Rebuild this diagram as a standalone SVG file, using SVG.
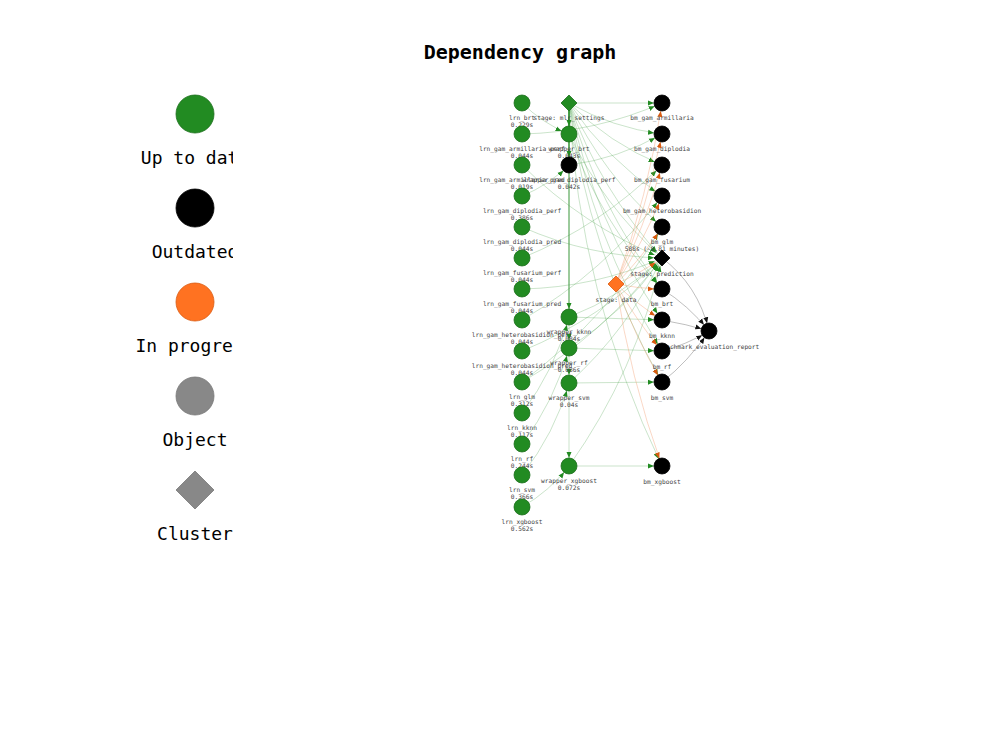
<svg xmlns="http://www.w3.org/2000/svg" width="1000" height="744" viewBox="0 0 1000 744">
<style>
.title{font-family:"DejaVu Sans Mono","Liberation Mono",monospace;font-weight:bold;font-size:20px;fill:#000}
.leg{font-family:"DejaVu Sans Mono","Liberation Mono",monospace;font-size:18px;fill:#000}
.lbl{font-family:"DejaVu Sans Mono","Liberation Mono",monospace;font-size:6.2px;fill:#444}
.g{fill:#228B22;stroke:#1C6E1C;stroke-width:0.8}
.k{fill:#000;stroke:#000;stroke-width:0.8}
.o{fill:#FF7221;stroke:#D95A10;stroke-width:0.8}
.gr{fill:#888;stroke:#777;stroke-width:0.8}
.eg{fill:none;stroke:#228B22;stroke-opacity:0.4;stroke-width:0.6}
.ed{fill:none;stroke:#228B22;stroke-width:0.9}
.eo{fill:none;stroke:#F08850;stroke-opacity:0.55;stroke-width:0.6}
.ek{fill:none;stroke:#666;stroke-opacity:0.7;stroke-width:0.6}
</style>
<defs>
<clipPath id="legclip"><rect x="0" y="0" width="233" height="744"/></clipPath>
<marker id="ag" viewBox="0 -4 16 8" refX="14" refY="0" markerWidth="16" markerHeight="8" markerUnits="userSpaceOnUse" orient="auto"><path d="M0,-2.5 L6,0 L0,2.5 z" fill="#228B22"/></marker>
<marker id="ao" viewBox="0 -4 16 8" refX="14" refY="0" markerWidth="16" markerHeight="8" markerUnits="userSpaceOnUse" orient="auto"><path d="M0,-2.5 L6,0 L0,2.5 z" fill="#D95A10"/></marker>
<marker id="ak" viewBox="0 -4 16 8" refX="14" refY="0" markerWidth="16" markerHeight="8" markerUnits="userSpaceOnUse" orient="auto"><path d="M0,-2.5 L6,0 L0,2.5 z" fill="#111"/></marker>
</defs>
<rect width="1000" height="744" fill="#fff"/>
<text class="title" x="520" y="59" text-anchor="middle">Dependency graph</text>

<g id="legend" clip-path="url(#legclip)">
<g id="leg-uptodate"><circle class="g" cx="195" cy="114" r="19"/><text class="leg" x="195" y="164" text-anchor="middle">Up to date</text></g>
<g id="leg-outdated"><circle class="k" cx="195" cy="208" r="19"/><text class="leg" x="195" y="258" text-anchor="middle">Outdated</text></g>
<g id="leg-inprogress"><circle class="o" cx="195" cy="302" r="19"/><text class="leg" x="195" y="352" text-anchor="middle">In progress</text></g>
<g id="leg-object"><circle class="gr" cx="195" cy="396" r="19"/><text class="leg" x="195" y="446" text-anchor="middle">Object</text></g>
<g id="leg-cluster"><polygon class="gr" points="195,471 214,490 195,509 176,490"/><text class="leg" x="195" y="540" text-anchor="middle">Cluster</text></g>
</g>

<g id="connectors">
<!-- light green -->
<path class="eg" marker-end="url(#ag)" d="M522,103 Q542.4,123.2 569,134"/>
<path class="eg" marker-end="url(#ag)" d="M522,134 Q595.1,132.5 662,103"/>
<path class="eg" marker-end="url(#ag)" d="M522,165 Q582.7,225.5 662,258"/>
<path class="eg" marker-end="url(#ag)" d="M522,196 Q548.6,185.2 569,165"/>
<path class="eg" marker-end="url(#ag)" d="M569,165 Q618.6,158.8 662,134"/>
<path class="eg" marker-end="url(#ag)" d="M522,227 Q588.9,256.5 662,258"/>
<path class="eg" marker-end="url(#ag)" d="M522,258 Q601.3,225.5 662,165"/>
<path class="eg" marker-end="url(#ag)" d="M522,289 Q595.1,287.5 662,258"/>
<path class="eg" marker-end="url(#ag)" d="M522,320 Q604.4,272 662,196"/>
<path class="eg" marker-end="url(#ag)" d="M522,351 Q601.3,318.5 662,258"/>
<path class="eg" marker-end="url(#ag)" d="M522,382 Q607.5,318.5 662,227"/>
<path class="eg" marker-end="url(#ag)" d="M522,382 Q604.4,334 662,258"/>
<path class="eg" marker-end="url(#ag)" d="M522,413 Q555.1,369.7 569,317"/>
<path class="eg" marker-end="url(#ag)" d="M522,444 Q555.1,400.7 569,348"/>
<path class="eg" marker-end="url(#ag)" d="M522,475 Q554.7,433.7 569,383"/>
<path class="eg" marker-end="url(#ag)" d="M522,507 Q549.6,491.2 569,466"/>
<path class="eg" marker-end="url(#ag)" d="M569,134 Q600,220.8 662,289"/>
<path class="eg" marker-end="url(#ag)" d="M569,134 Q603.1,205.3 662,258"/>
<path class="eg" marker-end="url(#ag)" d="M569,317 L662,320"/>
<path class="eg" marker-end="url(#ag)" d="M569,317 Q621.4,296.8 662,258"/>
<path class="eg" marker-end="url(#ag)" d="M569,348 L662,351"/>
<path class="eg" marker-end="url(#ag)" d="M569,348 Q624.5,312.3 662,258"/>
<path class="eg" marker-end="url(#ag)" d="M569,383 L662,382"/>
<path class="eg" marker-end="url(#ag)" d="M569,383 Q628,329.8 662,258"/>
<path class="eg" marker-end="url(#ag)" d="M569,466 L662,466"/>
<path class="eg" marker-end="url(#ag)" d="M569,466 Q636.3,371.3 662,258"/>
<path class="eg" marker-end="url(#ag)" d="M569,103 L662,103"/>
<path class="eg" marker-end="url(#ag)" d="M569,103 Q612.4,127.8 662,134"/>
<path class="eg" marker-end="url(#ag)" d="M569,103 Q609.3,143.3 662,165"/>
<path class="eg" marker-end="url(#ag)" d="M569,103 Q606.2,158.8 662,196"/>
<path class="eg" marker-end="url(#ag)" d="M569,103 Q603.1,174.3 662,227"/>
<path class="eg" marker-end="url(#ag)" d="M569,103 Q600,189.8 662,258"/>
<path class="eg" marker-end="url(#ag)" d="M569,103 Q596.9,205.3 662,289"/>
<path class="eg" marker-end="url(#ag)" d="M569,103 Q593.8,220.8 662,320"/>
<path class="eg" marker-end="url(#ag)" d="M569,103 Q590.7,236.3 662,351"/>
<path class="eg" marker-end="url(#ag)" d="M569,103 Q587.6,251.8 662,382"/>
<path class="eg" marker-end="url(#ag)" d="M569,103 Q579.2,293.8 662,466"/>
<!-- dark green verticals -->
<path class="ed" marker-end="url(#ag)" d="M569,103 L569,134"/>
<path class="ed" marker-end="url(#ag)" d="M569,103 L569,165"/>
<path class="ed" marker-end="url(#ag)" d="M569,103 L569,317"/>
<path class="eg" marker-end="url(#ag)" d="M569,317 L569,348"/>
<path class="eg" marker-end="url(#ag)" d="M569,348 L569,383"/>
<path class="eg" marker-end="url(#ag)" d="M569,383 L569,466"/>
<!-- orange -->
<path class="eo" marker-end="url(#ao)" d="M616,284 Q648.1,195.8 662,103"/>
<path class="eo" marker-end="url(#ao)" d="M616,284 Q646.5,211.3 662,134"/>
<path class="eo" marker-end="url(#ao)" d="M616,284 Q644.95,226.8 662,165"/>
<path class="eo" marker-end="url(#ao)" d="M616,284 Q643.4,242.3 662,196"/>
<path class="eo" marker-end="url(#ao)" d="M616,284 Q641.9,257.8 662,227"/>
<path class="eo" marker-end="url(#ao)" d="M616,284 Q640.3,273.3 662,258"/>
<path class="eo" marker-end="url(#ao)" d="M616,284 Q638.75,288.8 662,289"/>
<path class="eo" marker-end="url(#ao)" d="M616,284 Q637.2,304.3 662,320"/>
<path class="eo" marker-end="url(#ao)" d="M616,284 Q635.65,319.8 662,351"/>
<path class="eo" marker-end="url(#ao)" d="M616,284 Q634.1,335.3 662,382"/>
<path class="eo" marker-end="url(#ao)" d="M616,284 Q629.9,377.3 662,466"/>
<!-- gray -->
<path class="ek" marker-end="url(#ak)" d="M662,258 Q698,285 709,331"/>
<path class="ek" marker-end="url(#ak)" d="M662,289 Q688,305 709,331"/>
<path class="ek" marker-end="url(#ak)" d="M662,320 Q686,324 709,331"/>
<path class="ek" marker-end="url(#ak)" d="M662,351 Q686,345 709,331"/>
<path class="ek" marker-end="url(#ak)" d="M662,382 Q688,362 709,331"/>
</g>

<g id="n-lrn_brt"><circle class="g" cx="522" cy="103" r="8"/><text class="lbl" x="522" y="120" text-anchor="middle">lrn_brt</text><text class="lbl" x="522" y="127" text-anchor="middle">0.229s</text></g>
<g id="n-lrn_gam_armillaria_perf"><circle class="g" cx="522" cy="134" r="8"/><text class="lbl" x="522" y="151" text-anchor="middle">lrn_gam_armillaria_perf</text><text class="lbl" x="522" y="158" text-anchor="middle">0.044s</text></g>
<g id="n-lrn_gam_armillaria_pred"><circle class="g" cx="522" cy="165" r="8"/><text class="lbl" x="522" y="182" text-anchor="middle">lrn_gam_armillaria_pred</text><text class="lbl" x="522" y="189" text-anchor="middle">0.019s</text></g>
<g id="n-lrn_gam_diplodia_perf"><circle class="g" cx="522" cy="196" r="8"/><text class="lbl" x="522" y="213" text-anchor="middle">lrn_gam_diplodia_perf</text><text class="lbl" x="522" y="220" text-anchor="middle">0.386s</text></g>
<g id="n-lrn_gam_diplodia_pred"><circle class="g" cx="522" cy="227" r="8"/><text class="lbl" x="522" y="244" text-anchor="middle">lrn_gam_diplodia_pred</text><text class="lbl" x="522" y="251" text-anchor="middle">0.044s</text></g>
<g id="n-lrn_gam_fusarium_perf"><circle class="g" cx="522" cy="258" r="8"/><text class="lbl" x="522" y="275" text-anchor="middle">lrn_gam_fusarium_perf</text><text class="lbl" x="522" y="282" text-anchor="middle">0.044s</text></g>
<g id="n-lrn_gam_fusarium_pred"><circle class="g" cx="522" cy="289" r="8"/><text class="lbl" x="522" y="306" text-anchor="middle">lrn_gam_fusarium_pred</text><text class="lbl" x="522" y="313" text-anchor="middle">0.044s</text></g>
<g id="n-lrn_gam_heterobasidion_perf"><circle class="g" cx="522" cy="320" r="8"/><text class="lbl" x="522" y="337" text-anchor="middle">lrn_gam_heterobasidion_perf</text><text class="lbl" x="522" y="344" text-anchor="middle">0.044s</text></g>
<g id="n-lrn_gam_heterobasidion_pred"><circle class="g" cx="522" cy="351" r="8"/><text class="lbl" x="522" y="368" text-anchor="middle">lrn_gam_heterobasidion_pred</text><text class="lbl" x="522" y="375" text-anchor="middle">0.044s</text></g>
<g id="n-lrn_glm"><circle class="g" cx="522" cy="382" r="8"/><text class="lbl" x="522" y="399" text-anchor="middle">lrn_glm</text><text class="lbl" x="522" y="406" text-anchor="middle">0.312s</text></g>
<g id="n-lrn_kknn"><circle class="g" cx="522" cy="413" r="8"/><text class="lbl" x="522" y="430" text-anchor="middle">lrn_kknn</text><text class="lbl" x="522" y="437" text-anchor="middle">0.117s</text></g>
<g id="n-lrn_rf"><circle class="g" cx="522" cy="444" r="8"/><text class="lbl" x="522" y="461" text-anchor="middle">lrn_rf</text><text class="lbl" x="522" y="468" text-anchor="middle">0.244s</text></g>
<g id="n-lrn_svm"><circle class="g" cx="522" cy="475" r="8"/><text class="lbl" x="522" y="492" text-anchor="middle">lrn_svm</text><text class="lbl" x="522" y="499" text-anchor="middle">0.366s</text></g>
<g id="n-lrn_xgboost"><circle class="g" cx="522" cy="507" r="8"/><text class="lbl" x="522" y="524" text-anchor="middle">lrn_xgboost</text><text class="lbl" x="522" y="531" text-anchor="middle">0.562s</text></g>

<g id="n-stage_mlr_settings"><polygon class="g" points="569,95 577,103 569,111 561,103"/><text class="lbl" x="569" y="120" text-anchor="middle">stage: mlr_settings</text></g>
<g id="n-wrapper_brt"><circle class="g" cx="569" cy="134" r="8"/><text class="lbl" x="569" y="151" text-anchor="middle">wrapper_brt</text><text class="lbl" x="569" y="158" text-anchor="middle">0.043s</text></g>
<g id="n-wrapper_gam_diplodia_perf"><circle class="k" cx="569" cy="165" r="8"/><text class="lbl" x="569" y="182" text-anchor="middle">wrapper_gam_diplodia_perf</text><text class="lbl" x="569" y="189" text-anchor="middle">0.042s</text></g>
<g id="n-wrapper_kknn"><circle class="g" cx="569" cy="317" r="8"/><text class="lbl" x="569" y="334" text-anchor="middle">wrapper_kknn</text><text class="lbl" x="569" y="341" text-anchor="middle">0.084s</text></g>
<g id="n-wrapper_rf"><circle class="g" cx="569" cy="348" r="8"/><text class="lbl" x="569" y="365" text-anchor="middle">wrapper_rf</text><text class="lbl" x="569" y="372" text-anchor="middle">0.086s</text></g>
<g id="n-wrapper_svm"><circle class="g" cx="569" cy="383" r="8"/><text class="lbl" x="569" y="400" text-anchor="middle">wrapper_svm</text><text class="lbl" x="569" y="407" text-anchor="middle">0.04s</text></g>
<g id="n-wrapper_xgboost"><circle class="g" cx="569" cy="466" r="8"/><text class="lbl" x="569" y="483" text-anchor="middle">wrapper_xgboost</text><text class="lbl" x="569" y="490" text-anchor="middle">0.072s</text></g>

<g id="n-stage_data"><polygon class="o" points="616,276 624,284 616,292 608,284"/><text class="lbl" x="616" y="302" text-anchor="middle">stage: data</text></g>

<g id="n-bm_gam_armillaria"><circle class="k" cx="662" cy="103" r="8"/><text class="lbl" x="662" y="120" text-anchor="middle">bm_gam_armillaria</text></g>
<g id="n-bm_gam_diplodia"><circle class="k" cx="662" cy="134" r="8"/><text class="lbl" x="662" y="151" text-anchor="middle">bm_gam_diplodia</text></g>
<g id="n-bm_gam_fusarium"><circle class="k" cx="662" cy="165" r="8"/><text class="lbl" x="662" y="182" text-anchor="middle">bm_gam_fusarium</text></g>
<g id="n-bm_gam_heterobasidion"><circle class="k" cx="662" cy="196" r="8"/><text class="lbl" x="662" y="213" text-anchor="middle">bm_gam_heterobasidion</text></g>
<g id="n-bm_glm"><circle class="k" cx="662" cy="227" r="8"/><text class="lbl" x="662" y="244" text-anchor="middle">bm_glm</text><text class="lbl" x="662" y="251" text-anchor="middle">588s (~9.81 minutes)</text></g>
<g id="n-stage_prediction"><polygon class="k" points="662,250 670,258 662,266 654,258"/><text class="lbl" x="662" y="276" text-anchor="middle">stage: prediction</text></g>
<g id="n-bm_brt"><circle class="k" cx="662" cy="289" r="8"/><text class="lbl" x="662" y="306" text-anchor="middle">bm_brt</text></g>
<g id="n-bm_kknn"><circle class="k" cx="662" cy="320" r="8"/><text class="lbl" x="662" y="338" text-anchor="middle">bm_kknn</text></g>
<g id="n-benchmark_evaluation_report"><circle class="k" cx="709" cy="331" r="8"/><text class="lbl" x="709" y="349" text-anchor="middle">benchmark_evaluation_report</text></g>
<g id="n-bm_rf"><circle class="k" cx="662" cy="351" r="8"/><text class="lbl" x="662" y="369" text-anchor="middle">bm_rf</text></g>
<g id="n-bm_svm"><circle class="k" cx="662" cy="382" r="8"/><text class="lbl" x="662" y="400" text-anchor="middle">bm_svm</text></g>
<g id="n-bm_xgboost"><circle class="k" cx="662" cy="466" r="8"/><text class="lbl" x="662" y="484" text-anchor="middle">bm_xgboost</text></g>
</svg>
